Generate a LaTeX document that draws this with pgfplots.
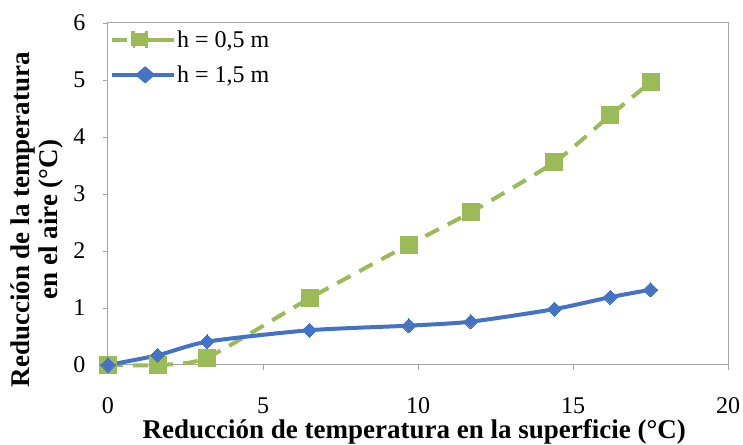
\documentclass[border=0pt]{standalone}
\usepackage{fontspec}
\setmainfont{Liberation Serif}
\usepackage{pgfplots}
\pgfplotsset{compat=1.18}
\definecolor{cgreen}{RGB}{155,187,89}
\definecolor{cblue}{RGB}{68,114,196}
\definecolor{cax}{RGB}{165,165,165}
\begin{document}
\begin{tikzpicture}
\begin{axis}[
  name=ax,
  scale only axis,
  width=620pt, height=342pt,
  xmin=0, xmax=20, ymin=0, ymax=6,
  xtick={0,5,10,15,20}, ytick={0,1,2,3,4,5,6},
  /pgf/number format/assume math mode=true,
  tick label style={font=\fontsize{24}{26}\selectfont, black},
  xticklabel style={yshift=-24pt},
  yticklabel style={xshift=-14pt},
  axis line style={cax, line width=1pt},
  tick style={cax, line width=0.8pt},
  tick align=outside,
  major tick length=5pt,
  xtick pos=bottom, ytick pos=left,
  xlabel={\textbf{Reducción de temperatura en la superficie (°C)}},
  xlabel style={font=\fontsize{27}{29}\selectfont, at={(axis description cs:0.494,-0.216)}, anchor=base},
  ylabel={\textbf{Reducción de la temperatura}\\\textbf{en el aire (°C)}},
  ylabel style={font=\fontsize{27}{28}\selectfont, align=center, at={(axis description cs:-0.1145,0.425)}, anchor=center},
  legend style={draw=none, fill=none, at={(axis description cs:0.0,0.99)}, anchor=north west,
    font=\fontsize{24}{26}\selectfont, row sep=13pt, inner sep=2pt, column sep=0pt,
    nodes={inner xsep=1pt}},
  legend cell align=left,
  clip=false,
]
\addplot[cgreen, line width=4pt, dash pattern=on 15pt off 10pt, smooth, tension=0.4,
  mark=square*, mark size=8.5pt, mark options={solid, fill=cgreen, draw=cgreen, line width=0pt},
  legend image code/.code={
    \draw[cgreen, line width=4pt] (0pt,0pt) -- (15pt,0pt);
    \draw[cgreen, line width=4pt] (37pt,0pt) -- (50pt,0pt);
    \fill[cgreen] (21pt,-6.5pt) rectangle (34pt,6.5pt);
    \path (0pt,0pt) -- (62pt,0pt);
  }]
coordinates {
(0,0) (1.6,0) (3.2,0.13) (6.5,1.17) (9.7,2.11) (11.7,2.68) (14.4,3.56) (16.2,4.38) (17.5,4.96)
};
\addlegendentry{h = 0,5 m}
\addplot[cblue, line width=4pt, smooth, tension=0.4,
  mark=square*, mark size=5pt, mark options={solid, fill=cblue, draw=cblue, line width=0pt, rotate=45},
  legend image code/.code={
    \draw[cblue, line width=4pt] (0pt,0pt) -- (60pt,0pt);
    \fill[cblue] (26pt,0pt) -- (33pt,6pt) -- (40pt,0pt) -- (33pt,-6pt) -- cycle;
    \path (0pt,0pt) -- (62pt,0pt);
  }]
coordinates {
(0,0) (1.6,0.17) (3.2,0.41) (6.5,0.61) (9.7,0.69) (11.7,0.76) (14.4,0.98) (16.2,1.19) (17.5,1.32)
};
\addlegendentry{h = 1,5 m}
\draw[cax, line width=1pt] (rel axis cs:0,1) -- (rel axis cs:1,1) -- (rel axis cs:1,0);
\end{axis}
\pgfresetboundingbox
\useasboundingbox ([shift={(-108pt,-80pt)}]ax.south west) rectangle ([shift={(15pt,23pt)}]ax.north east);
\end{tikzpicture}
\end{document}
